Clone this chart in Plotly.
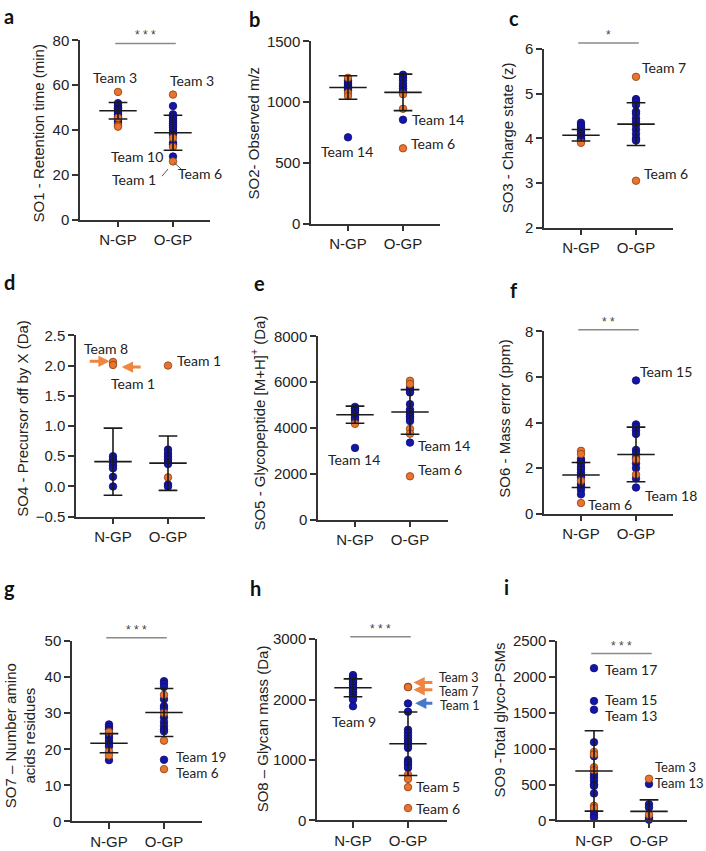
import plotly.graph_objects as go

W, H = 706, 851
CATS = ["N-GP", "O-GP"]
BLUE = "#1515a8"
ORANGE = "#e9742e"
ARROW_ORANGE = "#ee8540"
ARROW_BLUE = "#4a78c8"

# ---- data (blue = regular teams, orange = highlighted) ----
SO1_N_blue = [52, 51, 50, 49.5, 49, 48, 47, 46, 45, 44, 43]
SO1_N_orange = [57, 45.5, 42, 41.5]
SO1_O_blue = [50.7, 47, 46, 45, 44, 43, 42, 41, 40, 39, 38, 34.3, 33.5, 28.2]
SO1_O_orange = [55.8, 36.5, 32.5, 26]
SO1_mean = [48.6, 38.8]
SO1_sd = [3.7, 7.8]

SO2_N_blue = [1180, 1165, 1150, 1140, 1125, 1110, 1095, 710]
SO2_N_orange = [1200, 1075, 1050]
SO2_O_blue = [1225, 1200, 1180, 1150, 1130, 1110, 1090, 855]
SO2_O_orange = [1065, 945, 620]
SO2_mean = [1120, 1080]
SO2_sd = [97, 150]

SO3_N_blue = [4.35, 4.3, 4.25, 4.2, 4.15, 4.1, 4.05, 4.0, 3.97]
SO3_N_orange = [3.9]
SO3_O_blue = [4.88, 4.83, 4.75, 4.6, 4.55, 4.45, 4.38, 4.3, 4.2, 4.1, 4.0, 3.95]
SO3_O_orange = [5.38, 3.05]
SO3_mean = [4.07, 4.32]
SO3_sd = [0.13, 0.48]

SO4_N_blue = [0.5, 0.45, 0.4, 0.35, 0.3, 0.16, 0.0]
SO4_N_orange = [2.06, 2.01]
SO4_O_blue = [0.61, 0.55, 0.5, 0.45, 0.4, 0.37, 0.03, 0.0]
SO4_O_orange = [2.0, 0.15]
SO4_mean = [0.41, 0.385]
SO4_sd = [0.555, 0.45]

SO5_N_blue = [4920, 4850, 4750, 4650, 4550, 4450, 4350, 3130]
SO5_N_orange = [4180]
SO5_O_blue = [5750, 5650, 5550, 5040, 4800, 4700, 4600, 4500, 4400, 4300, 3360]
SO5_O_orange = [6060, 5920, 3960, 3750, 1890]
SO5_mean = [4580, 4700]
SO5_sd = [375, 975]

SO6_N_blue = [2.4, 2.3, 2.2, 2.05, 1.95, 1.8, 1.7, 1.6, 1.3, 1.2, 1.05, 0.85]
SO6_N_orange = [2.76, 2.62, 1.45, 0.47]
SO6_O_blue = [5.85, 3.92, 3.8, 3.65, 3.5, 2.8, 2.65, 2.45, 2.2, 2.0, 1.55, 1.15]
SO6_O_orange = [2.38, 1.72]
SO6_mean = [1.7, 2.6]
SO6_sd = [0.55, 1.2]

SO7_N_blue = [26.9, 26.2, 25.5, 24, 23.2, 22.3, 21.5, 20.8, 17]
SO7_N_orange = [24.8, 19.4, 18.3]
SO7_O_blue = [38.9, 38.2, 37.3, 33.9, 32, 31.3, 28.9, 27.6, 26.5, 25.5, 25, 17.1]
SO7_O_orange = [35.1, 30.1, 22.4, 14.5]
SO7_mean = [21.7, 30.2]
SO7_sd = [2.65, 6.65]

SO8_N_blue = [2405, 2360, 2320, 2280, 2240, 2200, 2160, 2120, 2080, 2040, 2000, 1890]
SO8_N_orange = []
SO8_O_blue = [1935, 1800, 1500, 1450, 1400, 1350, 1300, 1250, 1200, 1000, 960, 920, 870]
SO8_O_orange = [2211, 2205, 757, 686, 551, 205]
SO8_mean = [2195, 1270]
SO8_sd = [148, 525]

SO9_N_blue = [2123, 1664, 1545, 1091, 895, 640, 600, 555, 500, 480, 377, 130, 80, 40]
SO9_N_orange = [955, 920, 741, 700, 205, 175]
SO9_O_blue = [509, 227, 180, 40, 10]
SO9_O_orange = [582, 80]
SO9_mean = [690, 127]
SO9_sd = [560, 160]

TICK_FONT = dict(family="Liberation Sans, Arial", size=15, color="#222")
LABEL_FONT = dict(family="Lato, Liberation Sans", size=14, color="#222")

panels = [
    dict(letter="a", title="SO1 - Retention time (min)",
         data=(SO1_N_blue, SO1_N_orange, SO1_O_blue, SO1_O_orange, SO1_mean, SO1_sd),
         yr=(0, 80), dtick=20, box=(80, 210, 32, 215), ngp=118,
         tpos=(38, 127), lpos=(2, 7), sig=("* * *", 78.6)),
    dict(letter="b", title="SO2- Observed m/z",
         data=(SO2_N_blue, SO2_N_orange, SO2_O_blue, SO2_O_orange, SO2_mean, SO2_sd),
         yr=(0, 1500), dtick=500, box=(311, 440, 33, 219), ngp=348,
         tpos=(253, 127), lpos=(247, 10), sig=None),
    dict(letter="c", title="SO3 - Charge state (z)",
         data=(SO3_N_blue, SO3_N_orange, SO3_O_blue, SO3_O_orange, SO3_mean, SO3_sd),
         yr=(2, 6), dtick=1, box=(544, 673, 41, 223), ngp=581,
         tpos=(507, 132), lpos=(507, 9), sig=("*", 6.14)),
    dict(letter="d", title="SO4 - Precursor off by X (Da)",
         data=(SO4_N_blue, SO4_N_orange, SO4_O_blue, SO4_O_orange, SO4_mean, SO4_sd),
         yr=(-0.5, 2.5), dtick=0.5, box=(76, 205, 333, 518), ngp=113,
         tpos=(23, 418), lpos=(2, 279), sig=None, fmt=".1f"),
    dict(letter="e", title="SO5 - Glycopeptide [M+H]<sup>+</sup> (Da)",
         data=(SO5_N_blue, SO5_N_orange, SO5_O_blue, SO5_O_orange, SO5_mean, SO5_sd),
         yr=(0, 8000), dtick=2000, box=(318, 448, 334, 521), ngp=355,
         tpos=(258, 423), lpos=(252, 280), sig=None),
    dict(letter="f", title="SO6 - Mass error (ppm)",
         data=(SO6_N_blue, SO6_N_orange, SO6_O_blue, SO6_O_orange, SO6_mean, SO6_sd),
         yr=(0, 8), dtick=2, box=(544, 673, 329, 515), ngp=581,
         tpos=(505, 418), lpos=(508, 287), sig=("* *", 8.07)),
    dict(letter="g", title="SO7 – Number amino<br>acids residues",
         data=(SO7_N_blue, SO7_N_orange, SO7_O_blue, SO7_O_orange, SO7_mean, SO7_sd),
         yr=(0, 50), dtick=10, box=(72, 202, 645, 829), ngp=109,
         tpos=(20, 742), lpos=(2, 591), sig=("* * *", 50.9)),
    dict(letter="h", title="SO8 – Glycan mass (Da)",
         data=(SO8_N_blue, SO8_N_orange, SO8_O_blue, SO8_O_orange, SO8_mean, SO8_sd),
         yr=(0, 3000), dtick=1000, box=(317, 447, 643, 828), ngp=353,
         tpos=(262, 735), lpos=(248, 591), sig=("* * *", 3038)),
    dict(letter="i", title="SO9 -Total glyco-PSMs",
         data=(SO9_N_blue, SO9_N_orange, SO9_O_blue, SO9_O_orange, SO9_mean, SO9_sd),
         yr=(0, 2500), dtick=500, box=(557, 687, 645, 828), ngp=594,
         tpos=(500, 725), lpos=(502, 590), sig=("* * *", 2327)),
]

# team labels: (panel index, text, x, y, xanchor, font size)
labels = [
    (0, "Team 3", -0.05, 63.5, "center", 14), (0, "Team 3", 1.35, 62, "center", 14),
    (0, "Team 10", 0.86, 28, "right", 14), (0, "Team 1", 0.73, 18, "right", 14),
    (0, "Team 6", 1.05, 20.5, "left", 14),
    (1, "Team 14", -0.02, 594, "center", 14), (1, "Team 14", 1.13, 855, "left", 14),
    (1, "Team 6", 1.11, 660, "left", 14),
    (2, "Team 7", 1.07, 5.6, "left", 14), (2, "Team 6", 1.1, 3.22, "left", 14),
    (3, "Team 8", -0.13, 2.29, "center", 14), (3, "Team 1", 0.36, 1.71, "center", 14),
    (3, "Team 1", 1.13, 2.08, "left", 14),
    (4, "Team 14", -0.02, 2640, "center", 14), (4, "Team 14", 1.11, 3220, "left", 14),
    (4, "Team 6", 1.11, 2200, "left", 14),
    (5, "Team 15", 1.04, 6.25, "left", 14), (5, "Team 18", 1.13, 0.79, "left", 14),
    (5, "Team 6", 0.09, 0.42, "left", 14),
    (6, "Team 19", 1.18, 18.0, "left", 13.5), (6, "Team 6", 1.18, 13.4, "left", 13.5),
    (7, "Team 9", 0.02, 1640, "center", 14), (7, "Team 3", 1.53, 2360, "left", 12.5),
    (7, "Team 7", 1.53, 2135, "left", 12.5), (7, "Team 1", 1.55, 1910, "left", 12.5),
    (7, "Team 5", 1.11, 555, "left", 14), (7, "Team 6", 1.11, 205, "left", 14),
    (8, "Team 17", 0.16, 2110, "left", 14), (8, "Team 15", 0.16, 1680, "left", 14),
    (8, "Team 13", 0.16, 1470, "left", 14), (8, "Team 3", 1.08, 745, "left", 13),
    (8, "Team 13", 1.08, 525, "left", 13),
]

# arrows: (panel index, head x, tail x, y, colour)
arrows = [
    (3, -0.06, -0.45, 2.07, ARROW_ORANGE), (3, 0.16, 0.53, 1.975, ARROW_ORANGE),
    (7, 1.1, 1.47, 2282, ARROW_ORANGE), (7, 1.1, 1.47, 2162, ARROW_ORANGE),
    (7, 1.13, 1.47, 1938, ARROW_BLUE),
]

# leader lines in panel a: (x0, y0, x1, y1)
leaders = [(0.8, 19.4, 0.91, 22.6), (1.02, 25.5, 1.16, 22.3)]

fig = go.Figure()
annotations = []
shapes = []
UNIT = 55.0


def dot(x, y, color, edge, xa, ya):
    return go.Scatter(x=x, y=y, xaxis=xa, yaxis=ya, mode="markers", cliponaxis=False,
                      marker=dict(size=7.5, color=color, line=dict(color=edge, width=0.8)),
                      showlegend=False, hoverinfo="skip")


for i, p in enumerate(panels):
    k = "" if i == 0 else str(i + 1)
    xa, ya = "x" + k, "y" + k
    nb, no, ob, oo, mean, sd = p["data"]
    x0, x1, yt, yb = p["box"]
    y0v, y1v = p["yr"]
    dom_y = [1 - yb / H, 1 - yt / H]

    fig.add_trace(dot([0] * len(nb), nb, BLUE, "#0b0b70", xa, ya))
    fig.add_trace(dot([0] * len(no), no, ORANGE, "#8c3d12", xa, ya))
    fig.add_trace(dot([1] * len(ob), ob, BLUE, "#0b0b70", xa, ya))
    fig.add_trace(dot([1] * len(oo), oo, ORANGE, "#8c3d12", xa, ya))

    # mean +/- SD
    ex, ey = [], []
    for pos, m, s in zip([0, 1], mean, sd):
        ex += [pos - 0.34, pos + 0.34, None, pos - 0.17, pos + 0.17, None,
               pos - 0.17, pos + 0.17, None, pos, pos, None]
        ey += [m, m, None, m + s, m + s, None, m - s, m - s, None, m - s, m + s, None]
    fig.add_trace(go.Scatter(x=ex, y=ey, xaxis=xa, yaxis=ya, mode="lines",
                             line=dict(color="#1a1a1a", width=1.6),
                             showlegend=False, hoverinfo="skip"))

    fig.update_layout(**{
        "xaxis" + k: dict(domain=[x0 / W, x1 / W], range=[(x0 - p["ngp"]) / UNIT, (x1 - p["ngp"]) / UNIT],
                          tickvals=[0, 1], ticktext=CATS, showgrid=False, zeroline=False,
                          showline=True, linecolor="#333", linewidth=1.5, ticks="outside",
                          ticklen=6, tickwidth=1.5, tickcolor="#333", tickfont=TICK_FONT,
                          anchor=ya, fixedrange=True),
        "yaxis" + k: dict(domain=dom_y, range=[y0v, y1v], dtick=p["dtick"], tick0=y0v,
                          tickformat=p.get("fmt", ""), showgrid=False, zeroline=False,
                          showline=True, linecolor="#333", linewidth=1.5, ticks="outside",
                          ticklen=6, tickwidth=1.5, tickcolor="#333", tickfont=TICK_FONT,
                          anchor=xa, fixedrange=True),
    })

    tx, ty = p["tpos"]
    annotations.append(dict(x=tx / W, y=1 - ty / H, xref="paper", yref="paper", text=p["title"],
                            textangle=-90, showarrow=False, xanchor="center", yanchor="middle",
                            font=dict(family="Liberation Sans, Arial", size=15, color="#222")))
    lx, ly = p["lpos"]
    annotations.append(dict(x=lx / W, y=1 - ly / H, xref="paper", yref="paper", text="<b>%s</b>" % p["letter"],
                            showarrow=False, xanchor="left", yanchor="middle",
                            font=dict(family="Lato, Liberation Sans", size=20, color="#111")))

    if p["sig"]:
        stars, sv = p["sig"]
        py = dom_y[0] + (sv - y0v) / (y1v - y0v) * (dom_y[1] - dom_y[0])
        shapes.append(dict(type="line", xref=xa, yref="paper", x0=-0.05, x1=1.05, y0=py, y1=py,
                           line=dict(color="#8a8a8a", width=1.5)))
        annotations.append(dict(x=0.5, y=py, xref=xa, yref="paper", text=stars, showarrow=False,
                                xanchor="center", yanchor="bottom", yshift=-1,
                                font=dict(family="Liberation Sans, Arial", size=12, color="#444")))

for idx, text, x, y, anc, fs in labels:
    k = "" if idx == 0 else str(idx + 1)
    annotations.append(dict(x=x, y=y, xref="x" + k, yref="y" + k, text=text, showarrow=False,
                            xanchor=anc, yanchor="middle", font=dict(LABEL_FONT, size=fs)))

for idx, hx, tx_, y, col in arrows:
    k = "" if idx == 0 else str(idx + 1)
    annotations.append(dict(x=hx, y=y, ax=tx_, ay=y, xref="x" + k, yref="y" + k,
                            axref="x" + k, ayref="y" + k, text="", showarrow=True,
                            arrowhead=2, arrowsize=0.75, arrowwidth=3, arrowcolor=col, standoff=0))

for a, b, c, d in leaders:
    shapes.append(dict(type="line", xref="x", yref="y", x0=a, y0=b, x1=c, y1=d,
                       line=dict(color="#555", width=1)))

fig.update_layout(width=W, height=H, margin=dict(l=0, r=0, t=0, b=0),
                  paper_bgcolor="white", plot_bgcolor="white",
                  annotations=annotations, shapes=shapes, showlegend=False)

# body margin off so the figure sits flush in the window
fig.write_html("out.html", config={"displayModeBar": False},
               post_script="document.body.style.margin='0px';")
